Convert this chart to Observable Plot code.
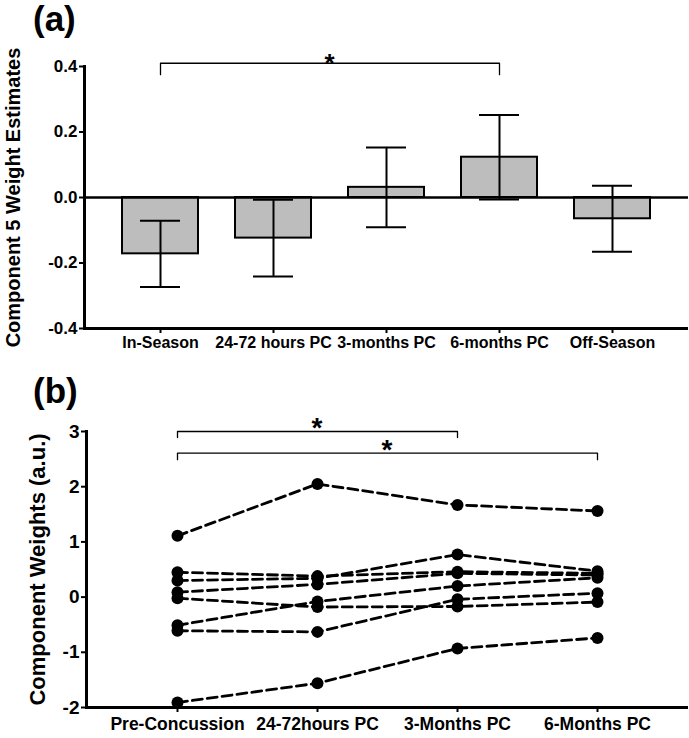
<!DOCTYPE html>
<html><head><meta charset="utf-8">
<script src="https://cdn.jsdelivr.net/npm/d3@7"></script>
<script src="https://cdn.jsdelivr.net/npm/@observablehq/plot@0.6"></script>
<style>
html,body{margin:0;padding:0;background:#fff;}
#wrap{position:relative;width:689px;height:738px;font-family:"Liberation Sans",Arial,sans-serif;font-weight:bold;overflow:hidden;}
.ttl{position:absolute;font-size:35px;line-height:35px;font-weight:bold;font-family:"Liberation Sans",Arial,sans-serif;}
#pa,#pb{position:absolute;left:0;}
#pa{top:0}#pb{top:360px}
.pa g[aria-label="y-axis label"], .pa g[aria-label="y-axis label"] text{font-size:20px !important}
.pb g[aria-label="y-axis label"], .pb g[aria-label="y-axis label"] text{font-size:22px !important}
</style></head><body>
<div id="wrap">
 <div id="pa"></div><div id="pb"></div>
 <div class="ttl" style="left:33px;top:1px">(a)</div>
 <div class="ttl" style="left:33px;top:373px">(b)</div>
</div>
<script>
// ---------- Panel (a) data ----------
const periodsA = ["In-Season", "24-72 hours PC", "3-months PC", "6-months PC", "Off-Season"];
const meansA = [-0.172, -0.124, 0.031, 0.123, -0.065];
const errsA  = [0.101, 0.117, 0.122, 0.129, 0.101];
const ticksA = [-0.4, -0.2, 0.0, 0.2, 0.4];
const bracketsA = [{from: "In-Season", to: "6-months PC", y: 0.41, drop: 0.035, starY: 0.381, label: "*"}];

// ---------- Panel (b) data ----------
const timepoints = ["Pre-Concussion", "24-72hours PC", "3-Months PC", "6-Months PC"];
const subj1 = [1.11, 2.05, 1.67, 1.56];
const subj2 = [0.45, 0.38, 0.46, 0.43];
const subj3 = [0.30, 0.34, 0.77, 0.47];
const subj4 = [0.09, 0.23, 0.43, 0.40];
const subj5 = [-0.02, -0.18, -0.17, -0.09];
const subj6 = [-0.51, -0.08, 0.20, 0.35];
const subj7 = [-0.61, -0.63, -0.04, 0.07];
const subj8 = [-1.91, -1.56, -0.93, -0.74];
const subjects = [subj1, subj2, subj3, subj4, subj5, subj6, subj7, subj8];
const ticksB = [-2, -1, 0, 1, 2, 3];
const bracketsB = [
  {from: "Pre-Concussion", to: "3-Months PC", y: 3.0, drop: 0.11, starY: 2.90, label: "*"},
  {from: "Pre-Concussion", to: "6-Months PC", y: 2.61, drop: 0.12, starY: 2.50, label: "*"}
];

const FONT = '"Liberation Sans", Arial, sans-serif';

const rowsA = periodsA.map((p, i) => ({period: p, mean: meansA[i], err: errsA[i]}));
const rowsB = subjects.flatMap((vals, s) => vals.map((v, i) => ({id: s, t: timepoints[i], v})));

function bracketPoints(brackets) {
  return brackets.flatMap((b, i) => [
    {id: i, x: b.from, y: b.y - b.drop},
    {id: i, x: b.from, y: b.y},
    {id: i, x: b.to, y: b.y},
    {id: i, x: b.to, y: b.y - b.drop}
  ]);
}

function starMark(brackets, size) {
  return (index, scales) => {
    const x = scales.x, y = scales.y;
    const off = typeof x.bandwidth === "function" ? x.bandwidth() / 2 : 0;
    const g = d3.create("svg:g");
    for (const b of brackets) {
      g.append("text")
        .attr("x", (x(b.from) + x(b.to)) / 2 + off)
        .attr("y", y(b.starY))
        .attr("text-anchor", "middle")
        .attr("font-size", size)
        .attr("font-weight", "bold")
        .attr("font-family", FONT)
        .text(b.label);
    }
    return g.node();
  };
}

const plotA = Plot.plot({
  width: 689, height: 360,
  marginLeft: 84, marginRight: 1, marginTop: 66, marginBottom: 32,
  className: "pa",
  style: {fontFamily: FONT, fontWeight: "bold", background: "white", overflow: "visible"},
  x: {type: "band", domain: periodsA, padding: 0.33, align: 0.5},
  y: {domain: [-0.4, 0.4]},
  marks: [
    Plot.barY(rowsA, {x: "period", y: "mean", fill: "#bdbdbd", stroke: "black", strokeWidth: 2}),
    Plot.ruleX(rowsA, {x: "period", y1: d => d.mean - d.err, y2: d => d.mean + d.err, strokeWidth: 2}),
    Plot.tickY(rowsA, {x: "period", y: d => d.mean - d.err, insetLeft: 18, insetRight: 18, strokeWidth: 2}),
    Plot.tickY(rowsA, {x: "period", y: d => d.mean + d.err, insetLeft: 18, insetRight: 18, strokeWidth: 2}),
    Plot.ruleY([0], {strokeWidth: 2.5}),
    Plot.ruleY([ticksA[0]], {strokeWidth: 3}),
    Plot.frame({anchor: "left", strokeWidth: 3}),
    Plot.line(bracketPoints(bracketsA), {x: "x", y: "y", z: "id", strokeWidth: 1.3}),
    starMark(bracketsA, 26),
    Plot.axisY({
      ticks: ticksA, tickFormat: d => d.toFixed(1), tickSize: 5, tickPadding: 2, strokeWidth: 2,
      fontSize: 17, label: "Component 5 Weight Estimates", labelAnchor: "center", labelArrow: "none", labelOffset: 79
    }),
    Plot.axisX({tickSize: 5, tickPadding: 3, strokeWidth: 2, fontSize: 16, label: null})
  ]
});
document.getElementById("pa").appendChild(plotA);

const plotB = Plot.plot({
  width: 689, height: 378,
  marginLeft: 86, marginRight: 1, marginTop: 71, marginBottom: 31,
  className: "pb",
  style: {fontFamily: FONT, fontWeight: "bold", background: "white", overflow: "visible"},
  x: {type: "point", domain: timepoints, padding: 0.65, align: 0.5},
  y: {domain: [-2, 3]},
  marks: [
    Plot.line(rowsB, {x: "t", y: "v", z: "id", stroke: "black", strokeWidth: 2.8, strokeDasharray: "10,5"}),
    Plot.dot(rowsB, {x: "t", y: "v", r: 6, fill: "black"}),
    Plot.ruleY([ticksB[0]], {strokeWidth: 3}),
    Plot.frame({anchor: "left", strokeWidth: 3}),
    Plot.line(bracketPoints(bracketsB), {x: "x", y: "y", z: "id", strokeWidth: 1.3}),
    starMark(bracketsB, 28),
    Plot.axisY({
      ticks: ticksB, tickFormat: d => String(d), tickSize: 5, tickPadding: 2, strokeWidth: 2,
      fontSize: 19, label: "Component Weights (a.u.)", labelAnchor: "center", labelArrow: "none", labelOffset: 57
    }),
    Plot.axisX({tickSize: 5, tickPadding: 5, strokeWidth: 2, fontSize: 17.5, label: null})
  ]
});
document.getElementById("pb").appendChild(plotB);
</script>
</body></html>
